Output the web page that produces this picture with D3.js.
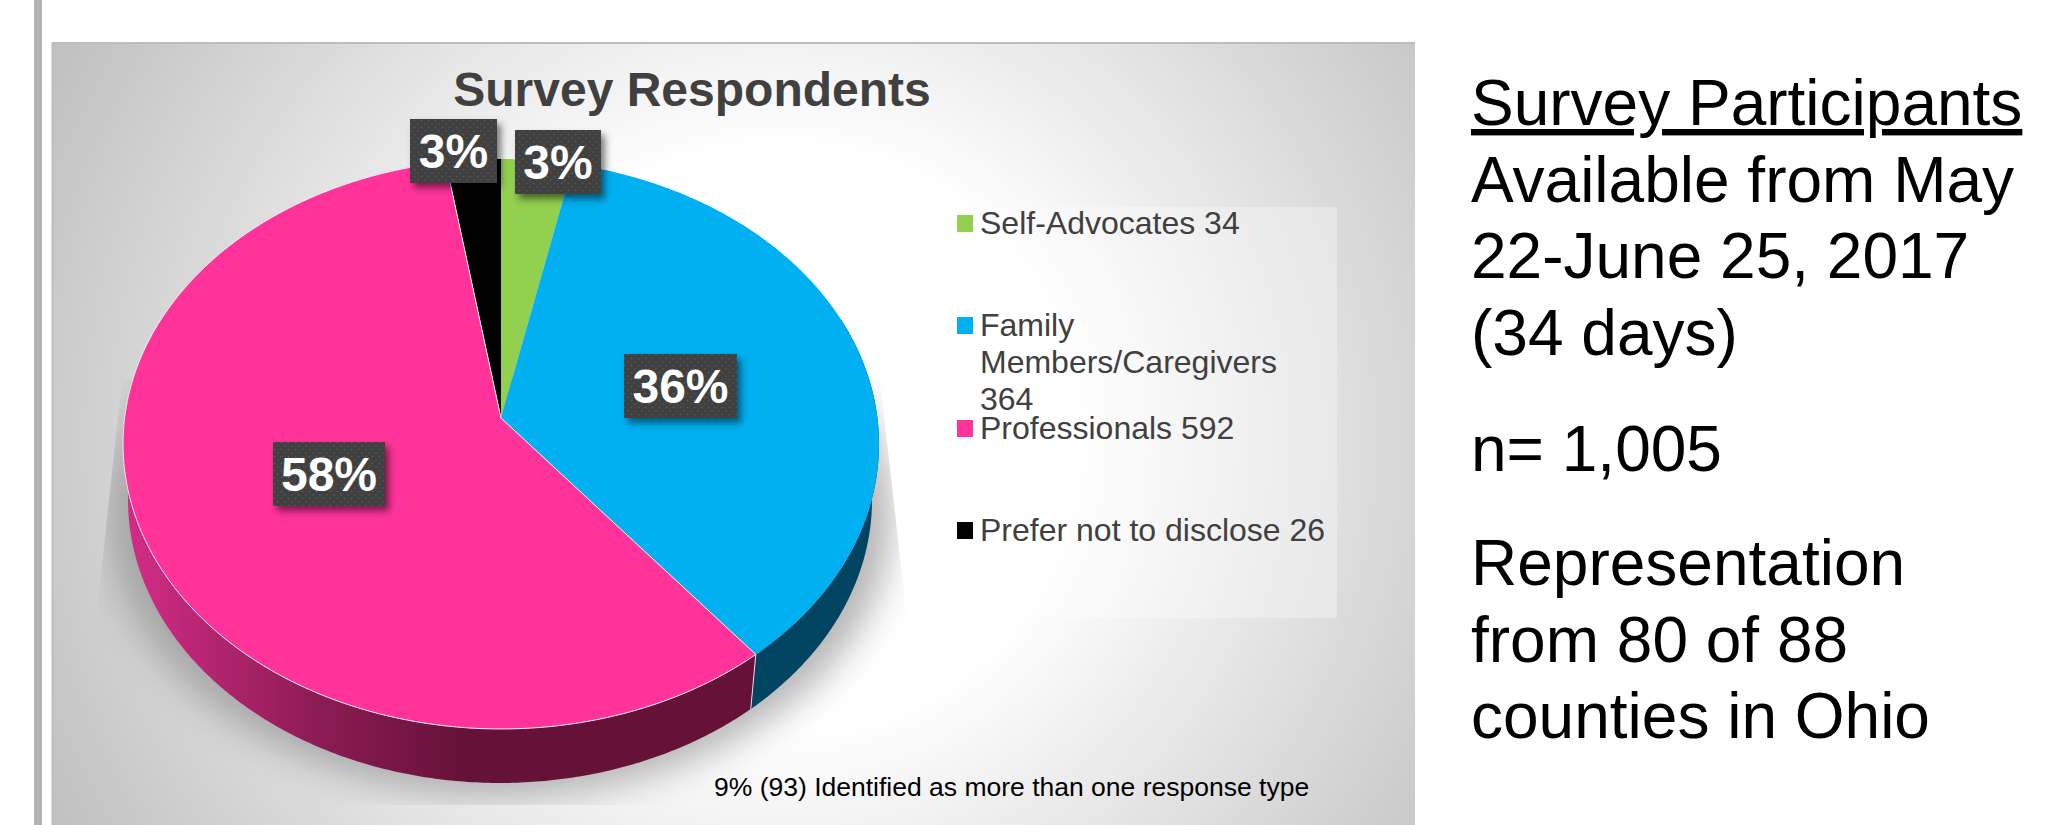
<!DOCTYPE html>
<html>
<head>
<meta charset="utf-8">
<script src="https://cdn.jsdelivr.net/npm/d3@7/dist/d3.min.js"></script>
<style>
  html, body { margin: 0; padding: 0; background: #fff; overflow: hidden; }
  svg { display: block; }
  text { font-family: "Liberation Sans", Arial, sans-serif; text-decoration-skip-ink: none; }
</style>
</head>
<body>
<svg id="chart" width="2046" height="825"></svg>
<script>
// Respondent groups in pie order, clockwise from twelve o'clock
const categories = ["Self-Advocates", "Family Members/Caregivers", "Professionals", "Prefer not to disclose"];
const respondents = [34, 364, 592, 26];
const percentLabels = ["3%", "36%", "58%", "3%"];
const faceColors = ["#92d050", "#00b0f0", "#ff3399", "#000000"];
const legendLines = [
  ["Self-Advocates 34"],
  ["Family", "Members/Caregivers", "364"],
  ["Professionals 592"],
  ["Prefer not to disclose 26"]
];
const noteText = "9% (93) Identified as more than one response type";
const titleText = "Survey Respondents";
const sideLines = [
  ["Survey Participants", 125, true],
  ["Available from May", 202, false],
  ["22-June 25, 2017", 278, false],
  ["(34 days)", 355, false],
  ["n= 1,005", 471, false],
  ["Representation", 585, false],
  ["from 80 of 88", 662, false],
  ["counties in Ohio", 738, false]
];

const svg = d3.select("#chart");
const defs = svg.append("defs");

// Panel background
const bg = defs.append("radialGradient").attr("id", "panelFill")
  .attr("gradientUnits", "userSpaceOnUse")
  .attr("cx", 0).attr("cy", 0).attr("r", 1)
  .attr("gradientTransform", "translate(780,440) scale(847,836)");
bg.append("stop").attr("offset", 0.345).attr("stop-color", "#ffffff");
bg.append("stop").attr("offset", 0.91).attr("stop-color", "#c6c6c6");
bg.append("stop").attr("offset", 1).attr("stop-color", "#bfbfbf");

// Side wall shading of the large slice
const wall = defs.append("linearGradient").attr("id", "wallPink")
  .attr("gradientUnits", "userSpaceOnUse")
  .attr("x1", 130).attr("x2", 460).attr("y1", 0).attr("y2", 0);
wall.append("stop").attr("offset", 0).attr("stop-color", "#d22c85");
wall.append("stop").attr("offset", 0.55).attr("stop-color", "#8e1c56");
wall.append("stop").attr("offset", 1).attr("stop-color", "#661238");

// Dotted texture of the value labels
const dots = defs.append("pattern").attr("id", "labelDots")
  .attr("patternUnits", "userSpaceOnUse").attr("width", 7).attr("height", 7);
dots.append("rect").attr("width", 7).attr("height", 7).attr("fill", "#404040");
dots.selectAll("circle").data([[1.5, 1.5], [5, 5]]).join("circle")
  .attr("cx", d => d[0]).attr("cy", d => d[1]).attr("r", 0.8).attr("fill", "#5c5c5c");

const labelShadow = defs.append("filter").attr("id", "labelShadow")
  .attr("x", "-20%").attr("y", "-20%").attr("width", "150%").attr("height", "150%");
labelShadow.append("feDropShadow").attr("dx", 4).attr("dy", 5).attr("stdDeviation", 3.5)
  .attr("flood-color", "#000").attr("flood-opacity", 0.5);

const softBlur = defs.append("filter").attr("id", "softBlur")
  .attr("x", "-20%").attr("y", "-20%").attr("width", "140%").attr("height", "140%");
softBlur.append("feGaussianBlur").attr("stdDeviation", 18);

defs.append("clipPath").attr("id", "shadowClip").append("path")
  .attr("d", "M122,380 L97,610 L97,805 L906,805 L906,610 L880,380 Z");

// Slide rule and panel
svg.append("rect").attr("x", 34).attr("y", 0).attr("width", 8).attr("height", 825).attr("fill", "#b3b3b3");
svg.append("rect").attr("x", 52).attr("y", 42).attr("width", 1363).attr("height", 783).attr("fill", "url(#panelFill)");
svg.append("path").attr("d", "M52.5,825 V43 H1415").attr("fill", "none").attr("stroke", "#bdbdbd").attr("stroke-width", 2);

// Perspective view of the pie: the disc centre sits above the middle of the ellipse
const view = { x0: 501, y0: 418, a: 376.4, b: 282.6, k: -0.0912 };
const rim = { cxTop: 501, cyTop: 444, cxLow: 500, cyLow: 500, sx: 372 / 378, sy: 283 / 285 };

function project(angle) {
  const u = Math.sin(angle), v = -Math.cos(angle), w = 1 + view.k * v;
  return [view.x0 + view.a * u / w, view.y0 + view.b * v / w];
}
function projectLow(angle) {
  const [x, y] = project(angle);
  return [rim.cxLow + (x - rim.cxTop) * rim.sx, rim.cyLow + (y - rim.cyTop) * rim.sy];
}
function sampleAngles(a0, a1) {
  const n = Math.max(2, Math.ceil(Math.abs(a1 - a0) / 0.01));
  return d3.range(n + 1).map(i => a0 + (a1 - a0) * i / n);
}

const arcs = d3.pie().sort(null).value(d => d)(respondents);
const line = d3.line();

// Soft floor shadow
svg.append("g").attr("clip-path", "url(#shadowClip)")
  .append("ellipse").attr("cx", 500).attr("cy", 515).attr("rx", 392).attr("ry", 280)
  .attr("fill", "#888888").attr("opacity", 0.62).attr("filter", "url(#softBlur)");

// Visible side walls: family members on the right, professionals at the front
const wallParts = [
  { index: 1, fill: "#004461", from: 1.2 },
  { index: 2, fill: "url(#wallPink)", to: 4.9 }
];
svg.append("g").selectAll("path").data(wallParts).join("path")
  .attr("d", p => {
    const s = arcs[p.index];
    const t = sampleAngles(p.from ?? s.startAngle, p.to ?? s.endAngle);
    return line(t.map(project).concat(t.slice().reverse().map(projectLow))) + "Z";
  })
  .attr("fill", p => p.fill);

// Seam between the two walls
const seam = arcs[1].endAngle;
svg.append("path").attr("d", line([project(seam), projectLow(seam)]))
  .attr("stroke", "#f3d9e6").attr("stroke-width", 1).attr("fill", "none");

// Disc faces; only the large slice carries a light edge, so it is drawn last
const faces = svg.append("g").selectAll("path").data(arcs).join("path")
  .attr("d", s => line([[view.x0, view.y0]].concat(sampleAngles(s.startAngle, s.endAngle).map(project))) + "Z")
  .attr("fill", (s, i) => faceColors[i])
  .attr("stroke", (s, i) => i === 2 ? "#f6f0f3" : "none")
  .attr("stroke-width", 1).attr("stroke-linejoin", "round");
faces.filter((s, i) => i === 2).raise();

// Title
svg.append("text").attr("x", 692).attr("y", 106).attr("text-anchor", "middle")
  .attr("font-size", 48).attr("font-weight", 700).attr("fill", "#404040").text(titleText);

// Value labels
const labelBoxes = [
  { index: 0, x: 515, y: 130, w: 86, h: 64 },
  { index: 1, x: 624, y: 354, w: 113, h: 64 },
  { index: 2, x: 273, y: 442, w: 112, h: 64 },
  { index: 3, x: 410, y: 119, w: 87, h: 64 }
];
const labels = svg.append("g").selectAll("g").data(labelBoxes).join("g");
labels.append("rect")
  .attr("x", d => d.x).attr("y", d => d.y).attr("width", d => d.w).attr("height", d => d.h)
  .attr("fill", "url(#labelDots)").attr("filter", "url(#labelShadow)");
labels.append("text")
  .attr("x", d => d.x + d.w / 2).attr("y", d => d.y + 49).attr("text-anchor", "middle")
  .attr("font-size", 48).attr("font-weight", 700).attr("fill", "#fff")
  .text(d => percentLabels[d.index]);

// Legend
svg.append("rect").attr("x", 942).attr("y", 207).attr("width", 395).attr("height", 411)
  .attr("fill", "#fff").attr("opacity", 0.3);
const legendY = [234, 336, 439, 541];
const legend = svg.append("g").selectAll("g").data(categories).join("g");
legend.append("rect").attr("x", 957).attr("y", (d, i) => legendY[i] - 19)
  .attr("width", 16).attr("height", 17).attr("fill", (d, i) => faceColors[i]);
legend.append("g").selectAll("text").data((d, i) => legendLines[i].map((t, j) => ({ t, j, i }))).join("text")
  .attr("x", 980).attr("y", d => legendY[d.i] + d.j * 37)
  .attr("font-size", 32).attr("fill", "#404040")
  .text(d => d.t);

// Footnote
svg.append("text").attr("x", 714).attr("y", 796).attr("font-size", 26.5).attr("fill", "#000").text(noteText);

// Side notes
svg.append("g").selectAll("text").data(sideLines).join("text")
  .attr("x", 1471).attr("y", d => d[1]).attr("font-size", 64).attr("fill", "#000")
  .attr("text-decoration", d => d[2] ? "underline" : null)
  .text(d => d[0]);
</script>
</body>
</html>
